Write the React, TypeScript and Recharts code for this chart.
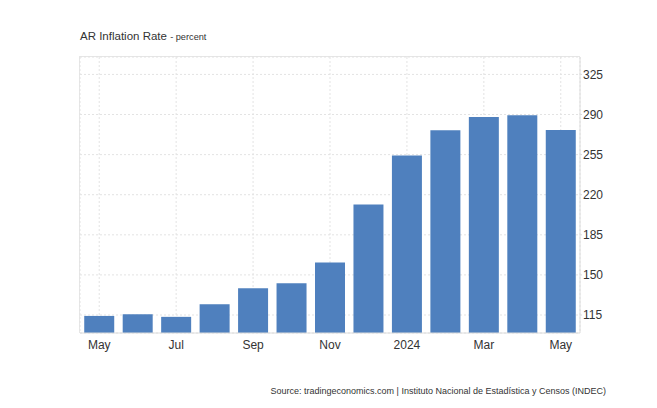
import React from 'react';
import { BarChart, Bar, XAxis, YAxis, CartesianGrid } from 'recharts';

const months = ['May', 'Jun', 'Jul', 'Aug', 'Sep', 'Oct', 'Nov', 'Dec', '2024', 'Feb', 'Mar', 'Apr', 'May'];
const inflation = [114.2, 115.6, 113.4, 124.4, 138.3, 142.7, 160.9, 211.4, 254.2, 276.2, 287.9, 289.4, 276.4];
const yTicks = [115, 150, 185, 220, 255, 290, 325];

const data = months.map((m, i) => ({ month: m, value: inflation[i] }));

const font = "'Liberation Sans', Arial, sans-serif";

export default function App() {
  return (
    <div style={{ position: 'absolute', top: 0, left: 0, width: 657, height: 408, background: '#fff', fontFamily: font }}>
      {/* title */}
      <div style={{ position: 'absolute', left: 80, top: 30, fontSize: 11.5, color: '#333', whiteSpace: 'nowrap' }}>
        AR Inflation Rate <span style={{ fontSize: 9.2 }}>- percent</span>
      </div>
      {/* plot frame (top + left edge) */}
      <div style={{ position: 'absolute', left: 79, top: 56, width: 501, height: 277, borderTop: '1px solid #e6e6e6', borderLeft: '1px solid #e6e6e6', boxSizing: 'border-box' }} />
      <BarChart
        width={657}
        height={408}
        data={data}
        margin={{ top: 57, right: 37, left: 80, bottom: 45 }}
        barCategoryGap="11%"
        style={{ position: 'absolute', top: 0, left: 0 }}
      >
        <CartesianGrid stroke="#e3e3e3" strokeDasharray="2 2" />
        <XAxis
          dataKey="month"
          interval={1}
          axisLine={{ stroke: '#dcdcdc' }}
          tickLine={false}
          tick={{ fill: '#333', fontSize: 12, fontFamily: font }}
          height={30}
          tickMargin={1}
        />
        <YAxis
          orientation="right"
          domain={[99.3, 340.2]}
          ticks={yTicks}
          axisLine={{ stroke: '#dcdcdc' }}
          tickLine={{ stroke: '#dcdcdc' }}
          tickSize={2}
          tickMargin={1}
          tick={{ fill: '#333', fontSize: 12, fontFamily: font }}
          width={40}
        />
        <Bar dataKey="value" fill="#4f80be" isAnimationActive={false} />
      </BarChart>
      {/* source */}
      <div style={{ position: 'absolute', right: 51, top: 386, fontSize: 9, color: '#333', whiteSpace: 'nowrap' }}>
        Source: tradingeconomics.com | Instituto Nacional de Estadística y Censos (INDEC)
      </div>
    </div>
  );
}
